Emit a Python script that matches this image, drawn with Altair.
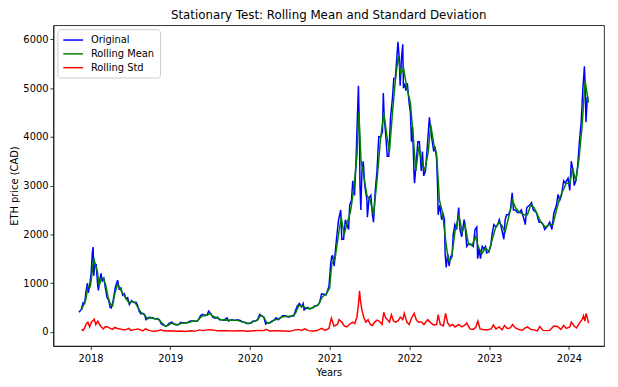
import altair as alt
import pandas as pd

orig_dates = [
    "2017-11-09","2017-11-20","2017-11-28","2017-12-05","2017-12-12","2017-12-18","2017-12-22","2017-12-28",
    "2018-01-04","2018-01-09","2018-01-13","2018-01-16","2018-01-20","2018-01-27","2018-02-02","2018-02-06",
    "2018-02-12","2018-02-18","2018-02-24","2018-03-03","2018-03-10","2018-03-18","2018-03-25","2018-04-01",
    "2018-04-06","2018-04-15","2018-04-24","2018-05-05","2018-05-12","2018-05-20","2018-05-28","2018-06-05",
    "2018-06-12","2018-06-20","2018-06-28","2018-07-08","2018-07-20","2018-07-28","2018-08-05","2018-08-12",
    "2018-08-20","2018-08-28","2018-09-05","2018-09-12","2018-09-20","2018-09-28","2018-10-10","2018-10-25",
    "2018-11-05","2018-11-14","2018-11-20","2018-11-26","2018-12-06","2018-12-14","2018-12-20","2018-12-28",
    "2019-01-08","2019-01-18","2019-01-28","2019-02-08","2019-02-18","2019-02-28","2019-03-10","2019-03-20",
    "2019-04-03","2019-04-15","2019-04-25","2019-05-05","2019-05-12","2019-05-20","2019-05-30","2019-06-10",
    "2019-06-20","2019-06-26","2019-07-05","2019-07-15","2019-07-25","2019-08-05","2019-08-15","2019-08-25",
    "2019-09-05","2019-09-18","2019-09-25","2019-10-10","2019-10-25","2019-11-05","2019-11-20","2019-11-28",
    "2019-12-10","2019-12-18","2019-12-28",
    "2020-01-05","2020-01-15","2020-01-25","2020-02-05","2020-02-15","2020-02-25","2020-03-05","2020-03-13",
    "2020-03-20","2020-03-30","2020-04-10","2020-04-20","2020-04-30","2020-05-10","2020-05-20","2020-05-30",
    "2020-06-10","2020-06-20","2020-06-30","2020-07-10","2020-07-20","2020-07-27","2020-08-05","2020-08-15",
    "2020-08-25","2020-09-01","2020-09-05","2020-09-20","2020-10-01","2020-10-15","2020-10-25","2020-11-05",
    "2020-11-15","2020-11-24","2020-12-05","2020-12-15","2020-12-20","2020-12-28",
    "2021-01-05","2021-01-10","2021-01-14","2021-01-21","2021-01-27","2021-02-05","2021-02-10","2021-02-20",
    "2021-02-25","2021-03-05","2021-03-13","2021-03-20","2021-03-28","2021-04-02","2021-04-10","2021-04-16",
    "2021-04-24","2021-05-01","2021-05-05","2021-05-08","2021-05-12","2021-05-17","2021-05-19","2021-05-23",
    "2021-05-28","2021-06-03","2021-06-10","2021-06-20","2021-06-22","2021-06-30","2021-07-08","2021-07-15",
    "2021-07-20","2021-07-28","2021-08-05","2021-08-13","2021-08-22","2021-08-30","2021-09-03","2021-09-07",
    "2021-09-13","2021-09-21","2021-09-28","2021-10-06","2021-10-15","2021-10-21","2021-10-28","2021-11-05",
    "2021-11-09","2021-11-15","2021-11-19","2021-11-25","2021-12-01","2021-12-04","2021-12-10","2021-12-15",
    "2021-12-22","2021-12-30",
    "2022-01-05","2022-01-10","2022-01-15","2022-01-22","2022-01-24","2022-02-01","2022-02-08","2022-02-15",
    "2022-02-24","2022-03-01","2022-03-07","2022-03-15","2022-03-25","2022-04-02","2022-04-08","2022-04-15",
    "2022-04-22","2022-04-28","2022-05-05","2022-05-10","2022-05-12","2022-05-20","2022-05-28","2022-06-05",
    "2022-06-10","2022-06-13","2022-06-18","2022-06-25","2022-07-01","2022-07-08","2022-07-15","2022-07-20",
    "2022-07-28","2022-08-05","2022-08-14","2022-08-20","2022-08-28","2022-09-08","2022-09-13","2022-09-20",
    "2022-09-28","2022-10-08","2022-10-20","2022-10-28","2022-11-05","2022-11-09","2022-11-15","2022-11-22",
    "2022-11-30","2022-12-08","2022-12-15","2022-12-20","2022-12-30",
    "2023-01-08","2023-01-14","2023-01-22","2023-02-01","2023-02-09","2023-02-16","2023-02-25","2023-03-09",
    "2023-03-15","2023-03-22","2023-03-30","2023-04-08","2023-04-16","2023-04-22","2023-05-01","2023-05-10",
    "2023-05-20","2023-05-28","2023-06-10","2023-06-15","2023-06-22","2023-07-05","2023-07-14","2023-07-22",
    "2023-08-05","2023-08-17","2023-08-28","2023-09-05","2023-09-12","2023-09-25","2023-10-05","2023-10-15",
    "2023-10-24","2023-11-05","2023-11-12","2023-11-20","2023-11-28","2023-12-08","2023-12-15","2023-12-28",
    "2024-01-05","2024-01-12","2024-01-20","2024-01-25","2024-02-02","2024-02-10","2024-02-18","2024-02-26",
    "2024-03-05","2024-03-12","2024-03-16","2024-03-19","2024-03-25","2024-03-31",
]
orig_vals = [
    400,460,600,580,850,1000,800,950,
    1200,1600,1740,1150,1400,1380,1000,850,
    1050,1200,1050,1100,900,700,650,500,
    490,650,900,1060,880,900,750,780,
    680,700,560,640,600,610,540,420,
    370,380,360,250,280,300,290,265,
    275,240,170,150,130,115,140,180,
    200,165,140,150,195,180,185,185,
    220,220,215,225,260,335,360,330,
    360,425,380,300,280,300,250,250,
    240,285,220,250,235,250,230,200,
    195,170,170,
    180,220,215,250,360,330,300,160,
    180,180,220,240,290,250,290,330,
    330,310,305,325,325,430,530,580,
    510,580,450,500,470,490,535,540,
    600,780,770,760,830,930,
    1400,1550,1560,1350,1700,2100,2300,2500,
    1900,1900,2300,2200,2100,2600,2700,3100,
    2800,3500,4100,4500,5050,4000,3000,2500,
    3300,3500,3000,2700,2350,2750,2800,2400,
    2250,2900,3300,4000,4000,4100,4900,4400,
    4100,3600,3600,4400,4800,5200,5200,5700,
    5950,5600,5050,5600,5900,5000,5100,4950,
    5100,4700,
    4500,3900,4200,3200,3050,3500,3900,3900,
    3300,3700,3200,3300,3900,4400,4150,3900,
    3700,3800,3550,2900,2400,2600,2300,2400,
    2300,1600,1320,1600,1350,1550,1550,2000,
    2200,2100,2550,2100,1950,2300,2150,1750,
    1800,1800,1750,2100,2150,1500,1700,1500,
    1750,1700,1750,1620,1640,
    1770,2000,2200,2150,2200,2300,2150,1900,
    2300,2400,2400,2500,2850,2500,2500,2450,
    2450,2500,2300,2200,2550,2600,2650,2500,
    2450,2250,2250,2200,2100,2170,2250,2100,
    2440,2600,2820,2700,2800,3100,3050,3150,
    2900,3500,3300,3000,3100,3400,3900,4300,
    5000,5450,4950,4300,4800,4800,
]

mean_dates = [
    "2017-11-21","2017-12-01","2017-12-10","2017-12-20","2017-12-31",
    "2018-01-08","2018-01-16","2018-01-24","2018-02-01","2018-02-10","2018-02-20","2018-03-01","2018-03-12",
    "2018-03-22","2018-04-02","2018-04-12","2018-04-22","2018-05-05","2018-05-15","2018-05-28","2018-06-10",
    "2018-06-25","2018-07-10","2018-07-25","2018-08-08","2018-08-22","2018-09-05","2018-09-18","2018-10-05",
    "2018-10-25","2018-11-10","2018-11-22","2018-12-08","2018-12-22",
    "2019-01-05","2019-01-20","2019-02-05","2019-02-20","2019-03-10","2019-03-30","2019-04-15","2019-05-05",
    "2019-05-20","2019-06-05","2019-06-20","2019-07-01","2019-07-15","2019-08-01","2019-08-20","2019-09-10",
    "2019-09-25","2019-10-15","2019-11-05","2019-11-25","2019-12-15",
    "2020-01-01","2020-01-20","2020-02-05","2020-02-18","2020-03-05","2020-03-18","2020-04-01","2020-04-20",
    "2020-05-10","2020-05-30","2020-06-20","2020-07-10","2020-07-28","2020-08-12","2020-08-30","2020-09-15",
    "2020-10-05","2020-10-25","2020-11-10","2020-11-28","2020-12-15","2020-12-31",
    "2021-01-10","2021-01-25","2021-02-08","2021-02-22","2021-03-08","2021-03-22","2021-04-05","2021-04-20",
    "2021-05-05","2021-05-14","2021-05-24","2021-06-05","2021-06-20","2021-07-05","2021-07-20","2021-08-05",
    "2021-08-20","2021-09-05","2021-09-20","2021-10-01","2021-10-15","2021-10-28","2021-11-10","2021-11-22",
    "2021-12-05","2021-12-20",
    "2022-01-05","2022-01-18","2022-01-30","2022-02-12","2022-02-26","2022-03-12","2022-03-28","2022-04-08",
    "2022-04-22","2022-05-05","2022-05-18","2022-06-01","2022-06-15","2022-06-28","2022-07-12","2022-07-28",
    "2022-08-15","2022-08-30","2022-09-12","2022-09-28","2022-10-15","2022-10-30","2022-11-12","2022-11-28",
    "2022-12-15","2022-12-31",
    "2023-01-15","2023-01-31","2023-02-15","2023-03-01","2023-03-15","2023-03-31","2023-04-18","2023-05-01",
    "2023-05-20","2023-06-10","2023-06-25","2023-07-10","2023-07-25","2023-08-10","2023-08-25","2023-09-15",
    "2023-10-05","2023-10-20","2023-11-05","2023-11-20","2023-12-05","2023-12-20",
    "2024-01-05","2024-01-18","2024-02-01","2024-02-15","2024-03-01","2024-03-15","2024-03-31",
]
mean_vals = [
    450,560,650,920,930,
    1200,1520,1350,1250,950,1100,1100,950,
    720,560,530,780,980,900,790,700,
    600,620,600,480,390,350,270,290,
    270,250,190,125,130,
    175,160,145,175,180,195,220,215,
    300,340,340,380,320,290,255,240,
    245,240,235,205,180,
    175,215,240,340,300,190,180,235,
    265,310,320,320,380,540,530,480,
    480,520,560,720,770,900,
    1400,1500,1950,2350,2000,2250,2450,2900,
    3600,4500,3500,3200,2800,2700,2400,3100,
    3900,4500,4000,3700,4500,5150,5650,5300,
    5400,5000,
    4700,4000,3300,3800,3500,3300,3700,4250,
    3850,3650,2700,2450,1900,1450,1500,2050,
    2400,2050,2200,1800,1780,1950,1750,1600,
    1720,1650,
    1900,2150,2250,2180,2050,2350,2700,2550,
    2450,2400,2400,2600,2550,2400,2250,2150,
    2200,2200,2500,2750,2900,3050,
    3050,3350,3100,3500,4200,5150,4700,
]

std_dates = [
    "2017-11-21","2017-11-28","2017-12-05","2017-12-12","2017-12-20","2017-12-28",
    "2018-01-05","2018-01-12","2018-01-18","2018-01-25","2018-02-03","2018-02-10","2018-02-20","2018-03-01",
    "2018-03-10","2018-03-20","2018-04-01","2018-04-12","2018-04-22","2018-05-05","2018-05-15","2018-05-25",
    "2018-06-05","2018-06-15","2018-06-25","2018-07-05","2018-07-20","2018-08-05","2018-08-15","2018-08-28",
    "2018-09-10","2018-09-25","2018-10-15","2018-11-01","2018-11-20","2018-12-01","2018-12-15","2018-12-28",
    "2019-01-15","2019-02-01","2019-02-20","2019-03-10","2019-04-05","2019-04-20","2019-05-15","2019-06-01",
    "2019-06-25","2019-07-15","2019-08-05","2019-08-25","2019-09-20","2019-10-15","2019-11-10","2019-12-01",
    "2019-12-20",
    "2020-01-15","2020-02-15","2020-03-05","2020-03-15","2020-04-01","2020-04-20","2020-05-10","2020-06-01",
    "2020-07-01","2020-07-28","2020-08-10","2020-08-25","2020-09-08","2020-09-25","2020-10-15","2020-11-01",
    "2020-11-25","2020-12-10","2020-12-28",
    "2021-01-08","2021-01-20","2021-02-05","2021-02-12","2021-02-25","2021-03-08","2021-03-20","2021-04-01",
    "2021-04-15","2021-04-25","2021-05-05","2021-05-12","2021-05-17","2021-05-21","2021-05-28","2021-06-05",
    "2021-06-15","2021-06-25","2021-07-05","2021-07-15","2021-07-25","2021-08-05","2021-08-15","2021-08-28",
    "2021-09-05","2021-09-12","2021-09-22","2021-10-01","2021-10-10","2021-10-20","2021-10-30","2021-11-10",
    "2021-11-20","2021-12-01","2021-12-08","2021-12-20","2021-12-30",
    "2022-01-10","2022-01-22","2022-02-01","2022-02-10","2022-02-25","2022-03-08","2022-03-25","2022-04-05",
    "2022-04-20","2022-05-05","2022-05-12","2022-05-22","2022-06-05","2022-06-15","2022-06-25","2022-07-05",
    "2022-07-18","2022-07-28","2022-08-15","2022-08-28","2022-09-10","2022-09-20","2022-10-05","2022-10-20",
    "2022-11-01","2022-11-10","2022-11-20","2022-12-01","2022-12-20",
    "2023-01-10","2023-01-20","2023-02-01","2023-02-15","2023-03-01","2023-03-12","2023-03-25","2023-04-08",
    "2023-04-18","2023-05-01","2023-05-15","2023-06-01","2023-06-15","2023-06-25","2023-07-10","2023-07-25",
    "2023-08-10","2023-08-20","2023-09-05","2023-09-20","2023-10-05","2023-10-24","2023-11-10","2023-11-25",
    "2023-12-08","2023-12-20",
    "2024-01-05","2024-01-12","2024-01-25","2024-02-05","2024-02-18","2024-03-01","2024-03-08","2024-03-14",
    "2024-03-20","2024-03-31",
]
std_vals = [
    50,30,80,160,200,100,
    200,230,260,150,220,160,100,60,
    110,100,70,50,90,70,60,50,
    40,50,70,30,45,60,45,20,
    60,30,10,15,40,20,15,20,
    15,10,15,8,20,10,40,25,
    45,40,20,20,25,15,20,20,
    12,
    20,30,25,50,15,20,20,15,
    10,40,50,30,60,25,15,20,
    70,30,70,
    280,120,150,250,200,120,100,150,
    200,170,300,550,840,650,450,300,
    200,250,150,130,200,240,220,150,
    400,300,250,200,350,220,200,230,
    300,250,380,200,150,
    280,380,250,200,200,150,250,200,
    140,150,350,150,120,380,180,120,
    150,100,150,100,130,180,60,50,
    100,220,60,50,40,
    60,140,60,100,40,130,70,80,
    150,80,50,30,80,100,50,40,
    20,110,30,25,30,120,110,50,
    130,70,
    100,200,120,80,180,250,330,220,
    380,180,
]

series_names = ["Original", "Rolling Mean", "Rolling Std"]
series_colors = ["#0000ff", "#008000", "#ff0000"]

df = pd.concat([
    pd.DataFrame({"date": orig_dates, "value": orig_vals, "series": series_names[0], "k": 0}),
    pd.DataFrame({"date": mean_dates, "value": mean_vals, "series": series_names[1], "k": 1}),
    pd.DataFrame({"date": std_dates, "value": std_vals, "series": series_names[2], "k": 2}),
], ignore_index=True)

year_ticks = [alt.DateTime(year=y, month=1, date=1, utc=True) for y in range(2018, 2025)]
font = "DejaVu Sans"

chart = alt.Chart(df).mark_line(strokeWidth=1.5).encode(
    x=alt.X("date:T", title="Years",
            scale=alt.Scale(type="utc",
                            domain=[alt.DateTime(year=2017, month=7, date=15, utc=True),
                                    alt.DateTime(year=2024, month=6, date=10, utc=True)],
                            nice=False),
            axis=alt.Axis(values=year_ticks, format="%Y", grid=False, tickSize=3.5,
                          labelPadding=4, titlePadding=4, labelFlush=False, labelOverlap=False)),
    y=alt.Y("value:Q", title="ETH price (CAD)",
            scale=alt.Scale(domain=[-290, 6290], nice=False, zero=False),
            axis=alt.Axis(values=[0, 1000, 2000, 3000, 4000, 5000, 6000], format="d",
                          grid=False, tickSize=3.5, labelPadding=2, titlePadding=3)),
    color=alt.Color("series:N", title=None,
                    scale=alt.Scale(domain=series_names, range=series_colors),
                    legend=alt.Legend(orient="top-left", offset=4,
                                      symbolType="M-2,0H2", symbolSize=100,
                                      symbolStrokeWidth=1.5, symbolOffset=5,
                                      fillColor="white", strokeColor="#cccccc",
                                      cornerRadius=3, padding=5, rowPadding=3,
                                      labelFontSize=10, labelFont=font, labelColor="#000000",
                                      labelOffset=12)),
    order=alt.Order("k:Q"),
    detail="series:N",
).properties(
    width=558,
    height=325,
    title=alt.Title("Stationary Test: Rolling Mean and Standard Deviation",
                    fontSize=12, fontWeight="normal", font=font, color="#000000", offset=3),
    autosize="none",
    padding={"left": 46, "top": 15, "right": 6, "bottom": 31},
).configure_view(
    stroke="#000000", strokeWidth=0.8
).configure_axis(
    labelFont=font, titleFont=font, labelFontSize=10, titleFontSize=10,
    labelColor="#000000", titleColor="#000000", titleFontWeight="normal",
    domainColor="#000000", tickColor="#000000", domainWidth=0.8, tickWidth=0.8,
)

chart.save("out.html", embed_options={"renderer": "svg", "actions": False})
